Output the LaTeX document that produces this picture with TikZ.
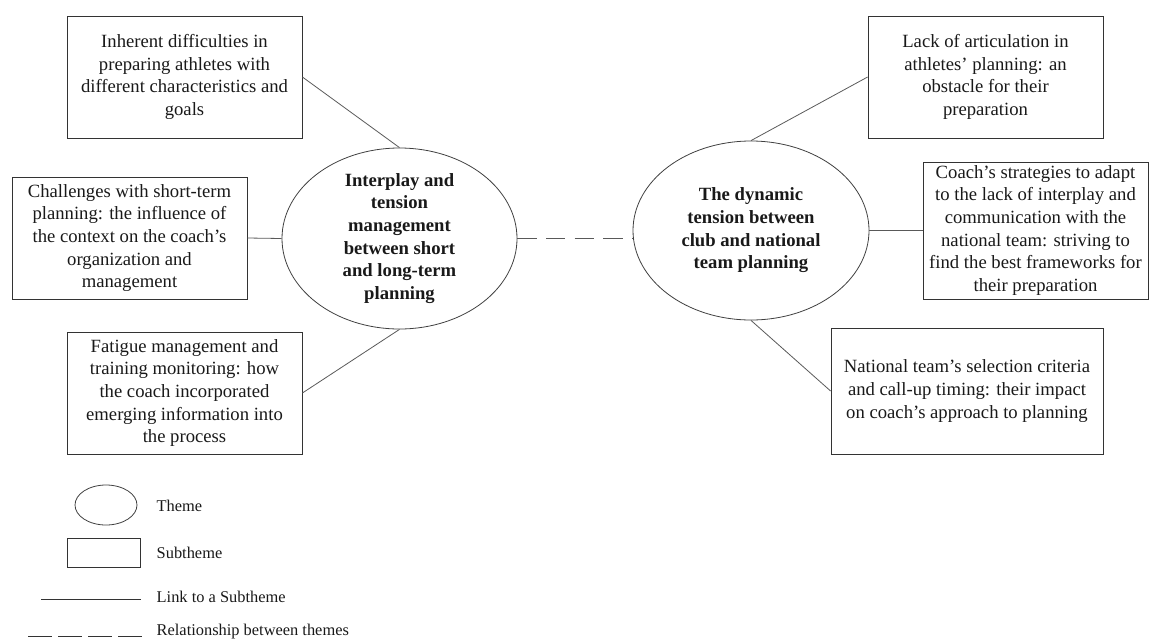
\documentclass[tikz,border=0pt]{standalone}
\usepackage{fontspec}
\setmainfont{Liberation Serif}
\usepackage{tikz}
\usetikzlibrary{shapes.geometric}

\begin{document}
\begin{tikzpicture}[x=0.75pt, y=-0.75pt,
	theme/.style={ellipse, draw=black!75, line width=0.6pt, inner sep=0pt},
	themetext/.style={align=center, text=black!90, font=\fontsize{14}{17}\selectfont\bfseries},
	keytext/.style={anchor=west, text=black!90, font=\fontsize{12.3}{14}\selectfont}]
	\useasboundingbox (0,0) rectangle (1149,643);

	\begin{scope}[every node/.style={draw=black!80, line width=0.6pt, align=center, inner sep=2pt,
	              text=black!90, font=\fontsize{14}{17}\selectfont}]
		\node[minimum width=176.25pt, minimum height=91.5pt] (s1) at (184.5,77)
			{Inherent difficulties in\\preparing athletes with\\different characteristics and\\goals};
		\node[minimum width=176.25pt, minimum height=91.5pt] (s2) at (129.5,238)
			{Challenges with short-term\\planning: the influence of\\the context on the coach's\\organization and\\management};
		\node[minimum width=176.25pt, minimum height=91.5pt] (s3) at (184.5,393)
			{Fatigue management and\\training monitoring: how\\the coach incorporated\\emerging information into\\the process};
		\node[minimum width=176.25pt, minimum height=91.5pt] (s4) at (985.5,77)
			{Lack of articulation in\\athletes' planning: an\\obstacle for their\\preparation};
		\node[minimum width=168.75pt, minimum height=102.75pt] (s5) at (1035.5,230.5)
			{Coach's strategies to adapt\\to the lack of interplay and\\communication with the\\national team: striving to\\find the best frameworks for\\their preparation};
		\node[minimum width=204pt, minimum height=94.5pt] (s6) at (967,391)
			{National team's selection criteria\\and call-up timing: their impact\\on coach's approach to planning};
	\end{scope}

	\node[theme, minimum width=176.25pt, minimum height=135.75pt,
	      label={[themetext]center:{Interplay and\\tension\\management\\between short\\and long-term\\planning}}] (t1) at (399.5,238.5) {};
	\node[theme, minimum width=177pt, minimum height=134.25pt,
	      label={[themetext]center:{The dynamic\\tension between\\club and national\\team planning}}] (t2) at (751,230.5) {};

	\begin{scope}[every edge/.style={draw=black!65, line width=0.6pt}]
		\path (s1.east) edge (t1.north);
		\path (s2.east) edge (t1.west);
		\path (s3.east) edge (t1.south);
		\path (t2.north) edge (s4.west);
		\path (t2.east) edge (s5.west);
		\path (t2.south) edge (s6.west);
		\path (t1.east) edge[dash pattern=on 14.5pt off 7pt] (t1.east -| t2.west);
	\end{scope}

	% key
	\node[theme, minimum width=46.5pt, minimum height=30pt] (k1) at (106,505) {};
	\node[draw=black!80, line width=0.6pt, minimum width=54.75pt, minimum height=21.75pt] (k2) at (103.5,552.5) {};
	\coordinate (k3) at (41,599);
	\coordinate (k4) at (141,599);
	\coordinate (k5) at (28,636);
	\coordinate (k6) at (142,636);
	\draw[black!80, line width=0.6pt] (k3) -- (k4);
	\draw[black!80, line width=0.6pt, dash pattern=on 18pt off 4.5pt] (k5) -- (k6);
	\node[keytext] (l1) at (152,506) {Theme};
	\node[keytext] (l2) at (152,553) {Subtheme};
	\node[keytext] (l3) at (152,597) {Link to a Subtheme};
	\node[keytext] (l4) at (152,632) {Relationship between themes};
\end{tikzpicture}
\end{document}
